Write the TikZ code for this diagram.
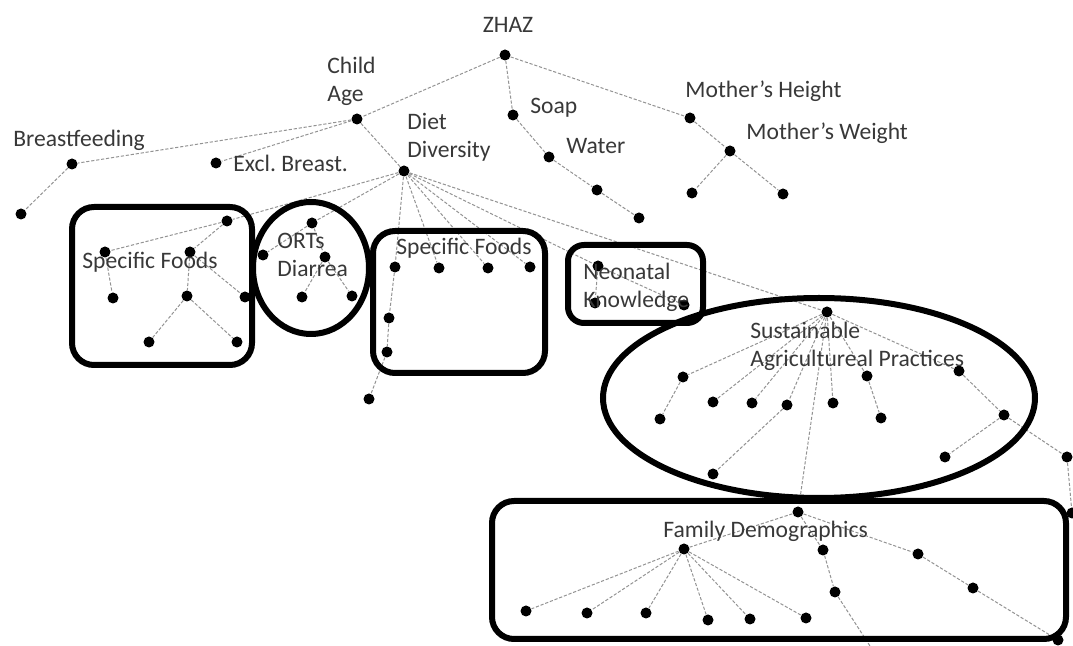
\documentclass[tikz,border=0pt]{standalone}
\usepackage{fontspec}
\setmainfont{Carlito}
\begin{document}
\begin{tikzpicture}[x=0.5pt,y=-0.5pt,
    dot/.style={circle,fill=black,inner sep=0pt,minimum size=5.5pt},
    link/.style={gray!85,line width=0.5pt,dash pattern=on 1.6pt off 0.9pt},
    lab/.style={text=black!78,font=\fontsize{11.8pt}{14pt}\selectfont,inner sep=0pt,anchor=west,align=left},
    grp/.style={line width=3pt,rounded corners=11pt}]
    \useasboundingbox (0,0) rectangle (1073,646);

    % dots
    \foreach \n/\x/\y in {z/505/55, ca/357/119, soap/513/115, water/549/157, w1/597/190, w2/639/218,
        mh/690/118, mw/730/151, mw1/692/193, mw2/783/194, bf/72/164, bf1/21/214, eb/216/163, dd/404/171,
        s1/227/221, s2/105/252, s3/190/252, s4/113/298, s5/187/296, s6/245/297, s7/149/342, s8/237/342,
        o1/312/223, o2/263/255, o3/325/257, o4/302/297, o5/352/296,
        m1/395/267, m2/439/268, m3/488/268, m4/530/267, m5/389/318, m6/387/352, m7/369/399,
        n1/598/266, n2/595/303, n3/684/305,
        sap/827/312, a1/683/377, a2/660/419, a3/713/402, a4/752/403, a5/787/405, a6/713/474, a7/833/403,
        a8/867/376, a9/881/418, a10/959/371, a11/1004/415, a12/945/457, a13/1067/457, a14/1072/513,
        fd/798/512, f1/684/549, f2/526/611, f3/587/613, f4/646/613, f5/708/620, f6/750/619, f7/806/618,
        f8/823/550, f9/835/592, f10/918/554, f11/973/588, f12/1058/640}
        \node[dot] (\n) at (\x,\y) {};
    \coordinate (fend) at (870,646);

    % links
    \foreach \a/\b in {z/ca, z/soap, z/mh, soap/water, water/w1, w1/w2, mh/mw, mw/mw1, mw/mw2,
        ca/bf, ca/eb, ca/dd, bf/bf1, dd/s1, dd/o1, dd/m1, dd/m2, dd/m3, dd/m4, dd/n1, dd/sap,
        s1/s2, s1/s3, s2/s4, s3/s5, s3/s6, s5/s7, s5/s8, o1/o2, o1/o3, o3/o4, o3/o5,
        m1/m5, m5/m6, m6/m7, n1/n2, n1/n3,
        sap/a1, a1/a2, sap/a3, sap/a4, sap/a5, a5/a6, sap/a7, sap/a8, a8/a9, sap/a10, a10/a11,
        a11/a12, a11/a13, a13/a14, sap/fd,
        fd/f1, f1/f2, f1/f3, f1/f4, f1/f5, f1/f6, f1/f7, fd/f8, f8/f9, f9/fend, fd/f10, f10/f11, f11/f12}
        \draw[link] (\a) -- (\b);

    % labels
    \node[lab,anchor=center] (zhaz) at (508,25) {ZHAZ};
    \node[lab] (agel) at (327,81) {Child\\Age};
    \node[lab] (bfl) at (13,140) {Breastfeeding};
    \node[lab] (ebl) at (233,163) {Excl.\ Breast.};
    \node[lab] (ddl) at (407,137) {Diet\\Diversity};
    \node[lab] (soapl) at (530,108) {Soap};
    \node[lab] (waterl) at (566,146) {Water};
    \node[lab] (mhl) at (685,91) {Mother’s Height};
    \node[lab] (mwl) at (746,133) {Mother’s Weight};
    \node[lab] (sfl) at (82,262) {Specific Foods};
    \node[lab] (ortl) at (277,255) {ORTs\\Diarrea};
    \node[lab] (sfm) at (396,248) {Specific Foods};
    \node[lab] (nkl) at (583,287) {Neonatal\\Knowledge};
    \node[lab] (sapl) at (750,346) {Sustainable\\Agricultureal Practices};
    \node[lab] (fdl) at (663,531) {Family Demographics};

    % groups
    \draw[grp] (72,207) rectangle (252,365);
    \draw[line width=3pt] (311,268) ellipse [x radius=29pt, y radius=33pt];
    \draw[grp] (373,231) rectangle (545,373);
    \draw[grp,rounded corners=8pt] (568,245) rectangle (703,323);
    \draw[line width=3pt] (819,398) ellipse [x radius=108pt, y radius=50pt];
    \draw[grp] (492,501) rectangle (1066,639);
\end{tikzpicture}
\end{document}
